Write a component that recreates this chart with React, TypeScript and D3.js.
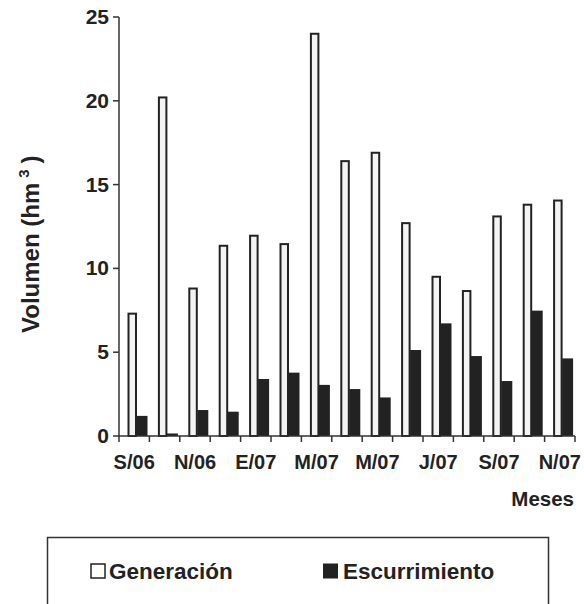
import React from "react";
import * as d3 from "d3";

const months = ["S/06","O/06","N/06","D/06","E/07","F/07","M/07","A/07","M/07","J/07","J/07","A/07","S/07","O/07","N/07"];
const generacion = [7.3, 20.2, 8.8, 11.35, 11.95, 11.45, 24.0, 16.4, 16.9, 12.7, 9.5, 8.65, 13.1, 13.8, 14.05];
const escurrimiento = [1.2, 0.15, 1.55, 1.45, 3.4, 3.78, 3.05, 2.8, 2.3, 5.13, 6.72, 4.77, 3.28, 7.48, 4.63];
const yTicks = [0, 5, 10, 15, 20, 25];
const seriesNames = ["Generación", "Escurrimiento"];

const FONT = "'Liberation Sans', Arial, Helvetica, sans-serif";
const DARK = "#222";

export default function App() {
  const W = 584, H = 604;
  const y = d3.scaleLinear().domain([0, 25]).range([436, 17]);
  const idx = months.map((_, i) => String(i));
  const x = d3.scaleBand<string>().domain(idx).range([119, 575]).paddingInner(0).paddingOuter(0);
  const bw = x.bandwidth();
  const boundaries = d3.range(months.length + 1).map(i => 119 + i * bw);

  return (
    <svg width={W} height={H} style={{ position: "absolute", left: 0, top: 0 }} fontFamily={FONT}>
      <rect x={0} y={0} width={W} height={H} fill="#fff" />
      {/* bars */}
      {months.map((m, i) => {
        const b = x(String(i))!;
        return (
          <g key={i}>
            <rect x={b + 9.5} y={y(generacion[i])} width={7.5} height={y(0) - y(generacion[i])}
              fill="#f3f3f3" stroke={DARK} strokeWidth={2} />
            <rect x={b + 17.5} y={y(escurrimiento[i])} width={11} height={y(0) - y(escurrimiento[i])}
              fill={DARK} />
          </g>
        );
      })}
      {/* axes */}
      <line x1={119} x2={119} y1={17} y2={436} stroke="#333" strokeWidth={1.5} />
      <line x1={119} x2={575} y1={436} y2={436} stroke="#333" strokeWidth={1.5} />
      {yTicks.map(t => (
        <g key={t}>
          <line x1={113} x2={119} y1={y(t)} y2={y(t)} stroke="#333" strokeWidth={1.5} />
          <text x={109} y={y(t) + 7} textAnchor="end" fontSize={21} fontWeight="bold" fill={DARK}>{t}</text>
        </g>
      ))}
      {boundaries.map((bx, i) => (
        <line key={i} x1={bx} x2={bx} y1={436} y2={442} stroke="#333" strokeWidth={1.5} />
      ))}
      {months.map((m, i) => i % 2 === 0 ? (
        <text key={i} x={x(String(i))! + bw / 2} y={469} textAnchor="middle" fontSize={20} fontWeight="bold" fill={DARK}>{m}</text>
      ) : null)}
      <text x={574} y={506} textAnchor="end" fontSize={20.5} fontWeight="bold" fill={DARK}>Meses</text>
      {/* y title */}
      <text transform="translate(39,333) rotate(-90)" fontSize={24} fontWeight="bold" fill={DARK}>
        Volumen (hm<tspan dx={5} dy={-10} fontSize={15}>3</tspan><tspan dx={6} dy={10}>)</tspan>
      </text>
      {/* legend */}
      <rect x={47.5} y={537.5} width={501} height={120} fill="none" stroke="#333" strokeWidth={1.5} />
      <rect x={91} y={564} width={14} height={14} fill="#fff" stroke={DARK} strokeWidth={1.5} />
      <text x={109} y={579} fontSize={22.5} fontWeight="bold" fill={DARK}>{seriesNames[0]}</text>
      <rect x={323} y={563.5} width={15} height={15} fill={DARK} />
      <text x={343} y={579} fontSize={22.5} fontWeight="bold" fill={DARK}>{seriesNames[1]}</text>
    </svg>
  );
}
